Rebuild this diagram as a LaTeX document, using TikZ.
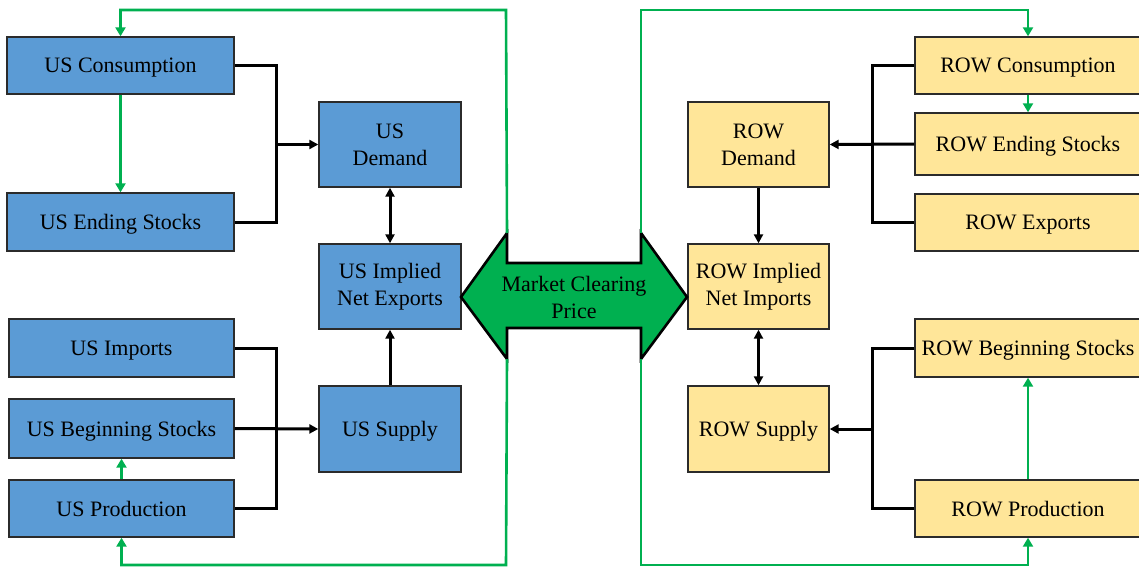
\documentclass[tikz,border=0pt]{standalone}
\usepackage{fontspec}
\setmainfont{Liberation Serif}
\usetikzlibrary{arrows.meta}
\definecolor{usblue}{HTML}{5B9BD5}
\definecolor{rowyellow}{HTML}{FFE699}
\definecolor{loopgreen}{HTML}{00B050}
\definecolor{edgegray}{HTML}{2B2B2B}
\tikzset{
  box/.style={draw=edgegray, line width=1.4pt, inner sep=0pt, align=center,
    font=\fontsize{22}{27}\selectfont},
  usbox/.style={box, fill=usblue},
  rowbox/.style={box, fill=rowyellow},
  oneline/.style={text depth=0pt},
  wide/.style={oneline, minimum width=227pt, minimum height=57pt},
  mid/.style={minimum width=142pt, minimum height=85pt},
  conn/.style={line width=3pt, black},
  tip/.style={-{Triangle[length=9pt,width=9pt]}},
  dtip/.style={{Triangle[length=9pt,width=9pt]}-{Triangle[length=9pt,width=9pt]}},
  loop/.style={line width=2.6pt, loopgreen},
  gtip/.style={-{Triangle[length=9pt,width=10pt]}}
}
\begin{document}
\begin{tikzpicture}[x=1pt,y=-1pt]
\useasboundingbox (0,0) rectangle (1139,567);

% US side
\node[usbox, wide] (uscons) at (120.5,65.5) {US Consumption};
\node[usbox, wide, minimum height=58pt] (usend) at (120.5,222) {US Ending Stocks};
\node[usbox, mid] (usdem) at (390,144.5) {US\\Demand};
\node[usbox, mid] (usnet) at (390,286.5) {US Implied\\Net Exports};
\node[usbox, wide, minimum width=225pt, minimum height=58pt] (usimports) at (121.5,348) {US Imports};
\node[usbox, wide, minimum width=225pt, minimum height=59pt] (usbeg) at (121.5,428.5) {US Beginning Stocks};
\node[usbox, wide, minimum width=225pt] (usprod) at (121.5,508.5) {US Production};
\node[usbox, mid, oneline, minimum height=86pt] (ussup) at (390,429) {US Supply};

% ROW side
\node[rowbox, wide, minimum width=226pt] (rowcons) at (1028,65.5) {ROW Consumption};
\node[rowbox, wide, minimum width=226pt, minimum height=62pt] (rowend) at (1028,144) {ROW Ending Stocks};
\node[rowbox, wide, minimum width=226pt] (rowexp) at (1028,222.5) {ROW Exports};
\node[rowbox, mid, minimum width=141pt] (rowdem) at (758.5,144.5) {ROW\\Demand};
\node[rowbox, mid, minimum width=141pt] (rownet) at (758.5,286.5) {ROW Implied\\Net Imports};
\node[rowbox, wide, minimum width=226pt, minimum height=58pt] (rowbeg) at (1028,348) {ROW Beginning Stocks};
\node[rowbox, mid, oneline, minimum width=141pt, minimum height=86pt] (rowsup) at (758.5,429) {ROW Supply};
\node[rowbox, wide, minimum width=226pt] (rowprod) at (1028,508.5) {ROW Production};

% Market clearing price double arrow
\coordinate (htl) at (507,233);
\coordinate (hbl) at (507,359);
\coordinate (htr) at (641,233);
\coordinate (hbr) at (641,359);
\draw[fill=loopgreen, line width=2.6pt, line join=miter]
  (461,297) -- (htl) -- (507,263) -- (641,263) -- (htr) -- (687,297)
  -- (hbr) -- (641,328) -- (507,328) -- (hbl) -- cycle;
\node[align=center, font=\fontsize{22}{27}\selectfont] (price) at (574,297) {Market Clearing\\Price};

% US aggregation buses
\coordinate (busA) at (276,144.5);
\coordinate (busB) at (276,429);
\draw[conn] (uscons.east) -| (busA) |- (usend.east);
\draw[conn, tip] (busA) -- (usdem.west);
\draw[conn] (usimports.east) -| (busB) |- (usprod.east);
\draw[conn, tip] (usbeg.east) -- (ussup.west);
\draw[conn, dtip] (usdem.south) -- (usnet.north);
\draw[conn, tip] (ussup.north) -- (usnet.south);

% ROW aggregation buses
\coordinate (busC) at (872,144.5);
\coordinate (busD) at (872,429);
\draw[conn] (rowcons.west) -| (busC) |- (rowexp.west);
\draw[conn, tip] (rowend.west) -- (rowdem.east);
\draw[conn] (rowbeg.west) -| (busD) |- (rowprod.west);
\draw[conn, tip] (busD) -- (rowsup.east);
\draw[conn, tip] (rowdem.south) -- (rownet.north);
\draw[conn, dtip] (rownet.south) -- (rowsup.north);

% price feedback loops
\draw[loop, gtip] (htl) -- (506,10) -| (uscons.north);
\draw[loop, gtip] (hbl) -- (506,565) -| (usprod.south);
\draw[loop, gtip] (htr) -- (641,10) -| (rowcons.north);
\draw[loop, gtip] (hbr) -- (641,565) -| (rowprod.south);
\draw[loop, gtip] (uscons.south) -- (usend.north);
\draw[loop, gtip] (usprod.north) -- (usbeg.south);
\draw[loop, gtip] (rowcons.south) -- (rowend.north);
\draw[loop, gtip] (rowprod.north) -- (rowbeg.south);
\end{tikzpicture}
\end{document}
